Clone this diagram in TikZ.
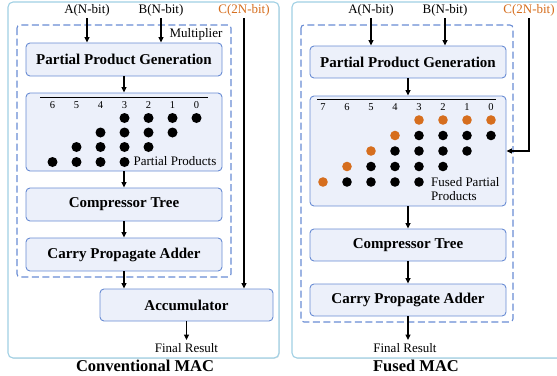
\documentclass[tikz,border=0pt]{standalone}
\usepackage{fontspec}
\setmainfont{Liberation Serif}
\usetikzlibrary{arrows.meta,shadows}
\definecolor{boxfill}{RGB}{236,240,250}
\definecolor{boxline}{RGB}{105,140,212}
\definecolor{panelline}{RGB}{160,208,228}
\definecolor{orng}{RGB}{214,110,30}
\tikzset{
 blk/.style={draw=boxline, fill=boxfill, rounded corners=4pt, line width=0.9pt, minimum width=196pt, minimum height=33pt, font=\fontsize{15}{18}\selectfont\bfseries, inner sep=0pt},
 panel/.style={draw=panelline, line width=1.1pt, rounded corners=5pt, fill=white, drop shadow={opacity=0.2, shadow xshift=0.8pt, shadow yshift=-0.8pt}},
 grp/.style={draw=boxline, dash pattern=on 7pt off 3.5pt, line width=1.1pt, rounded corners=3pt},
 arr/.style={-{Triangle[length=5.5pt,width=5pt]}, line width=1.5pt},
 lbl/.style={font=\fontsize{13}{15}\selectfont, inner sep=1.5pt},
 num/.style={font=\fontsize{10.5}{12}\selectfont, inner sep=0pt},
 ttl/.style={font=\fontsize{16.5}{19}\selectfont\bfseries, inner sep=0pt, anchor=base},
 dotb/.style={fill=black},
 doto/.style={fill=orng},
}
\begin{document}
\begin{tikzpicture}[x=1pt,y=-1pt]
\useasboundingbox (0,0) rectangle (557,375);
% panels
\path[panel] (8,2) rectangle (279,358);
\path[panel] (292,2) rectangle (566,358);
% groups
\draw[grp] (17,25) rectangle (231,277);
\draw[grp] (301,25) rectangle (513,322);

% ---------------- left ----------------
\node[blk] (ppg1) at (124,59.5) {Partial Product Generation};
\node[blk, minimum height=78pt] (pp1) at (124,132) {};
\node[blk] (ct1) at (124,204.5) {Compressor Tree};
\node[blk] (cpa1) at (124,254.5) {Carry Propagate Adder};
\node[blk, minimum width=173pt, minimum height=32pt] (acc) at (186.5,305) {Accumulator};

\node[lbl] (a1) at (87,10.5) {A(N-bit)};
\node[lbl] (b1) at (161,10.5) {B(N-bit)};
\node[lbl, text=orng] (c1) at (244,10.5) {C(2N-bit)};
\node[lbl] (mul) at (196,34) {Multiplier};
\node[lbl, anchor=north, inner sep=3pt] (fr1) at (186.5,340) {Final Result};

\draw[arr] (a1.south) -- (a1.south |- ppg1.north);
\draw[arr] (b1.south) -- (b1.south |- ppg1.north);
\draw[arr, line width=2pt] (c1.south) -- (c1.south |- acc.north);
\draw[arr] (ppg1) -- (pp1);
\draw[arr] (pp1) -- (ct1);
\draw[arr] (ct1) -- (cpa1);
\draw[arr] (cpa1.south) -- (cpa1.south |- acc.north);
\draw[arr] (acc.south) -- (fr1.north);

\draw[line width=0.9pt] (40,97) -- (208,97);
\foreach \c in {0,...,6} \node[num] (la\c) at ({196.5-24*\c},105) {\c};
\foreach \r/\y in {0/118,1/132.5,2/147,3/162}{
  \foreach \k in {0,...,3} \fill[dotb] ({196.5-24*(\k+\r)},\y) circle (5pt);
}
\node[lbl] (ppt1) at (175,161) {Partial Products};

% ---------------- right ----------------
\node[blk, minimum height=32pt] (ppg2) at (408,62) {Partial Product Generation};
\node[blk, minimum height=110pt] (fpp) at (408,151) {};
\node[blk, minimum height=32pt] (ct2) at (408,245) {Compressor Tree};
\node[blk, minimum height=32pt] (cpa2) at (408,300) {Carry Propagate Adder};

\node[lbl] (a2) at (371,10.5) {A(N-bit)};
\node[lbl] (b2) at (445,10.5) {B(N-bit)};
\node[lbl, text=orng] (c2) at (529,10.5) {C(2N-bit)};
\node[lbl, anchor=north, inner sep=3pt] (fr2) at (405,340) {Final Result};

\draw[arr] (a2.south) -- (a2.south |- ppg2.north);
\draw[arr] (b2.south) -- (b2.south |- ppg2.north);
\draw[arr, line width=2pt] (c2.south) |- (fpp.east);
\draw[arr] (ppg2) -- (fpp);
\draw[arr] (fpp) -- (ct2);
\draw[arr] (ct2) -- (cpa2);
\draw[arr] (cpa2.south) -- (cpa2.south |- fr2.north);

\draw[line width=0.9pt] (317,99) -- (496,99);
\foreach \c in {0,...,7} \node[num] (lb\c) at ({491-24*\c},107) {\c};
\foreach \k in {0,1,2} \fill[doto] ({491-24*\k},120) circle (4.8pt);
\foreach \r/\y in {0/120,1/135.5,2/151,3/166.5,4/182}{
  \fill[doto] ({491-24*(3+\r)},\y) circle (4.8pt);
}
\foreach \r/\y in {1/135.5,2/151,3/166.5,4/182}{
  \foreach \k in {0,...,3} \fill[dotb] ({491-24*(\r-1+\k)},\y) circle (4.8pt);
}
\node[lbl, anchor=west, align=left, font=\fontsize{13}{14.5}\selectfont] (fpt) at (429.5,189) {Fused Partial\\Products};

% titles
\node[ttl] (t1) at (145,371) {Conventional MAC};
\node[ttl] (t2) at (416,371) {Fused MAC};
\end{tikzpicture}
\end{document}
